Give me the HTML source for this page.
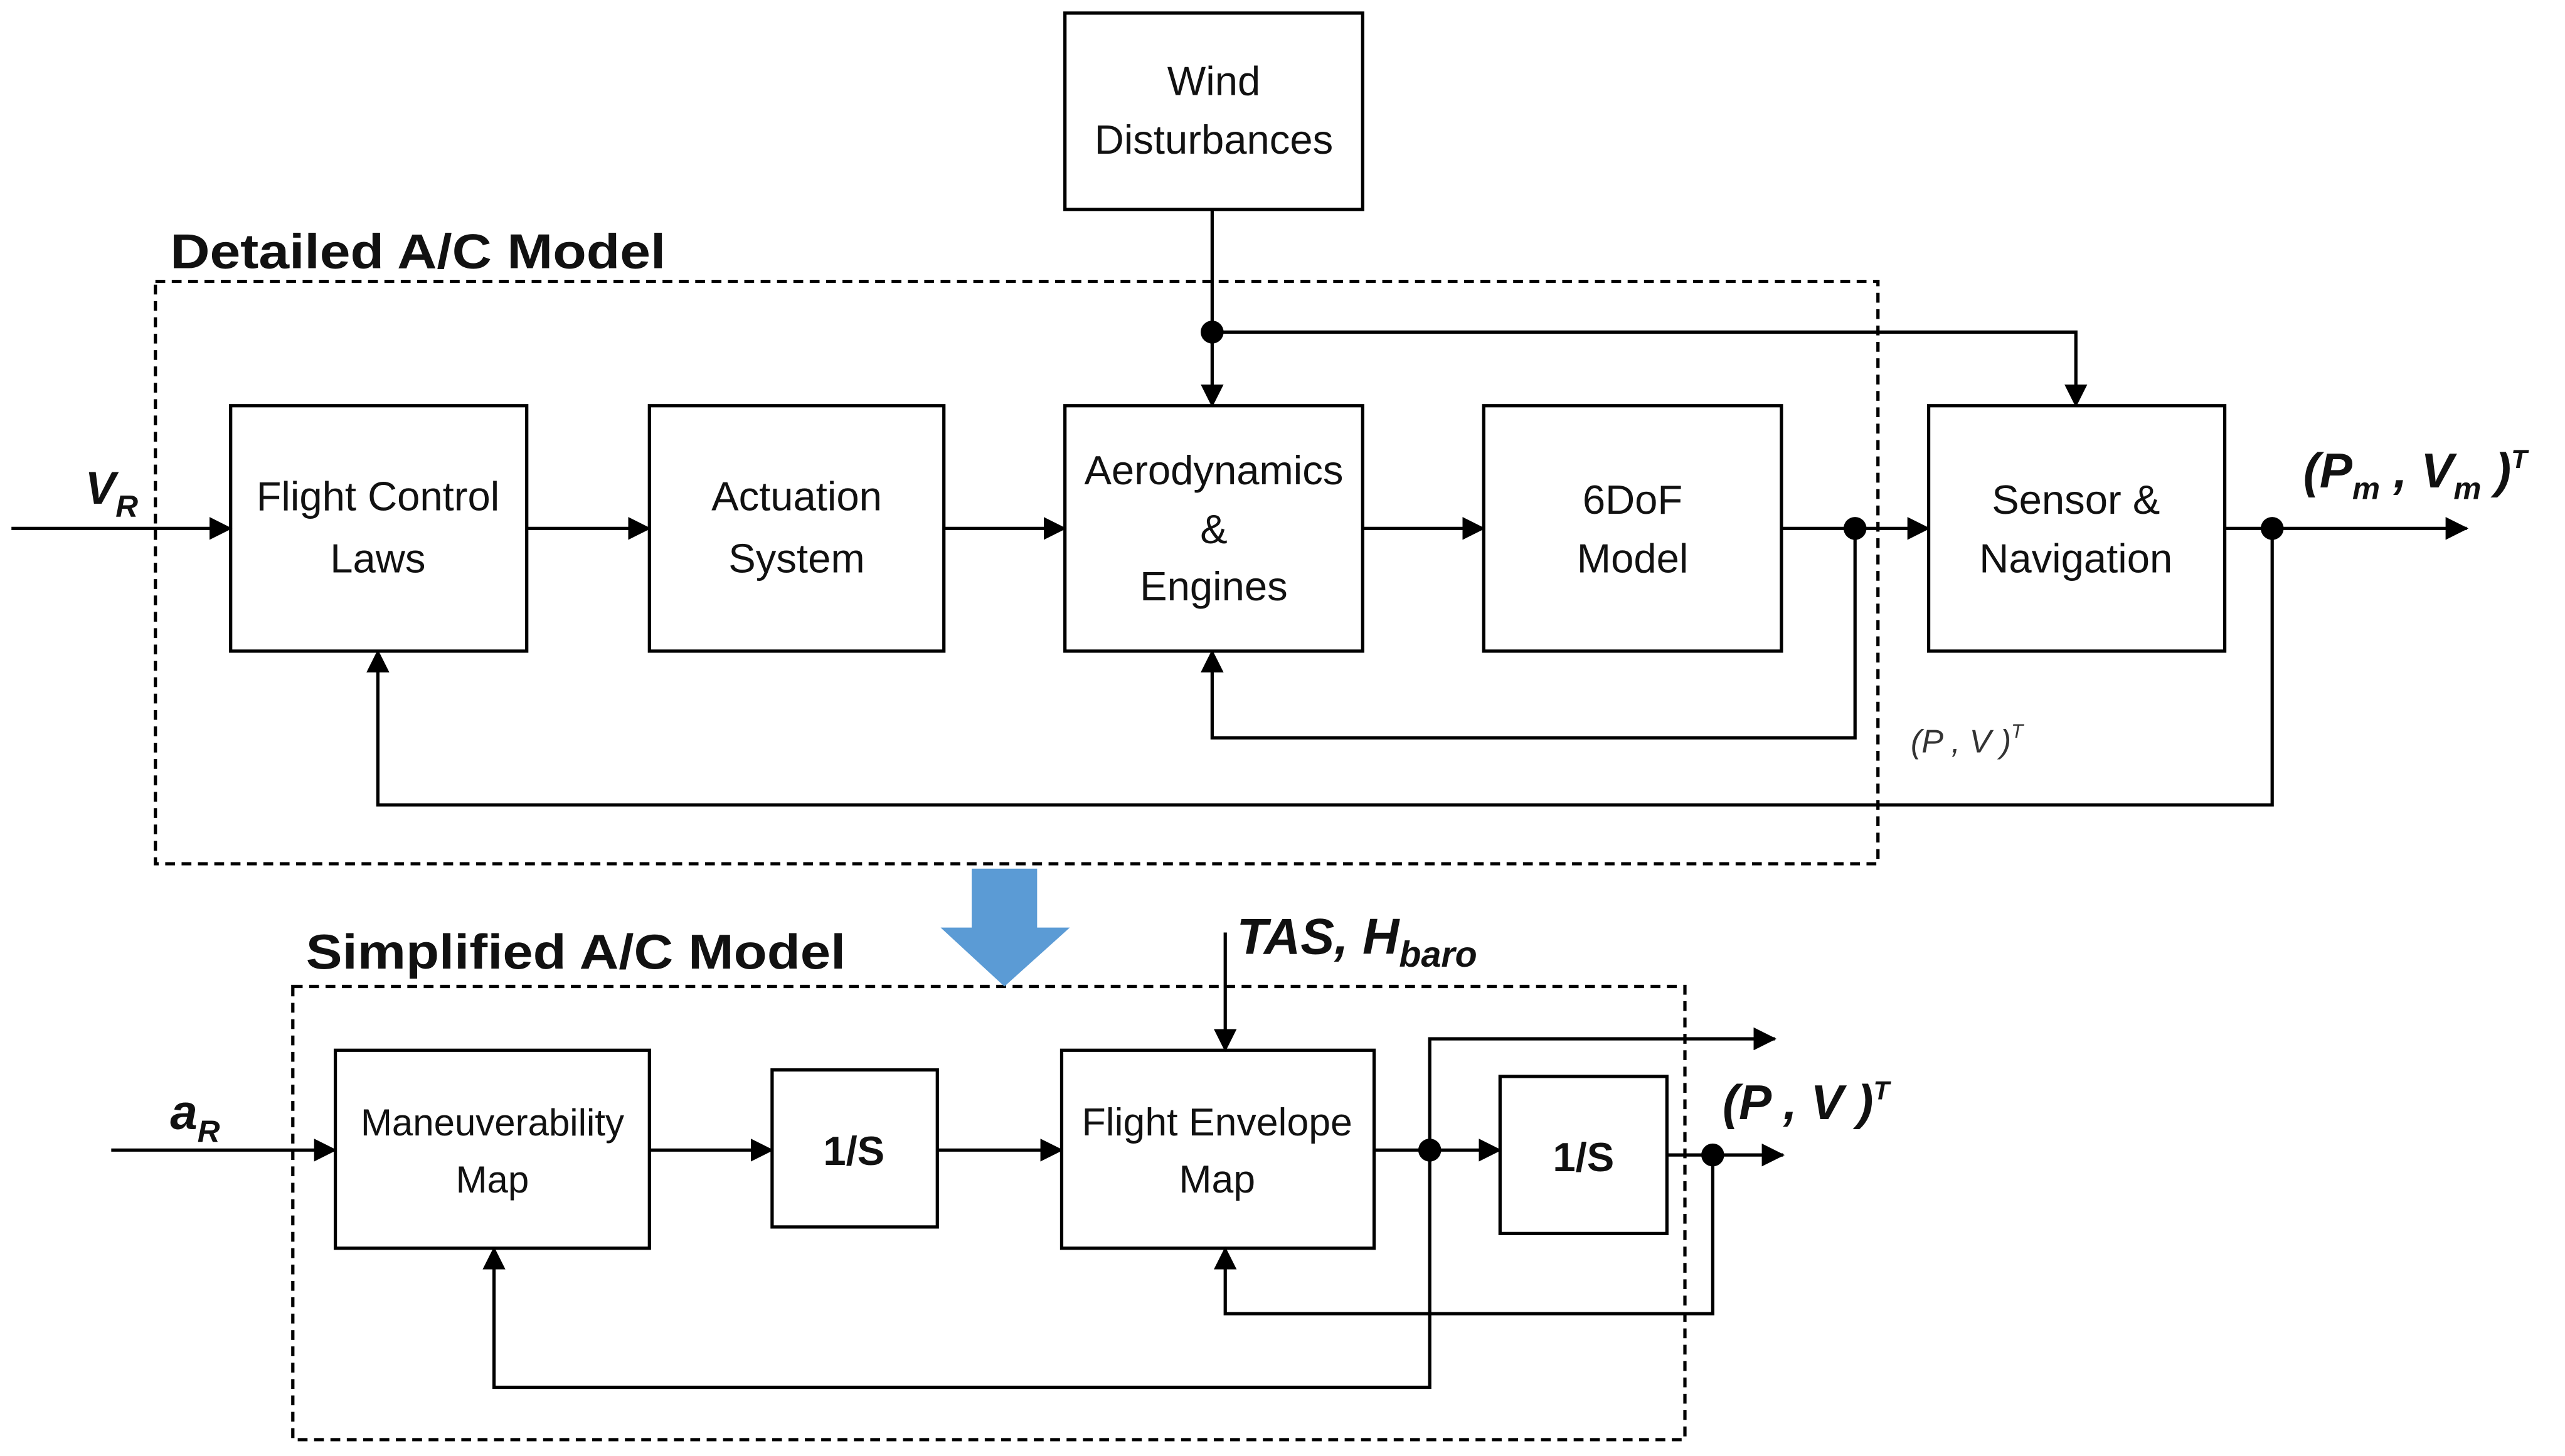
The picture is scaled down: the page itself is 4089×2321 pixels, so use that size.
<!DOCTYPE html>
<html><head><meta charset="utf-8"><style>html,body{margin:0;padding:0;background:#fff}svg{display:block}</style></head>
<body>
<svg width="4089" height="2321" viewBox="0 0 1568 890" preserveAspectRatio="none" xmlns="http://www.w3.org/2000/svg" font-family="Liberation Sans, sans-serif">
<defs><marker id="b" markerWidth="14" markerHeight="14" refX="13" refY="7" orient="auto" markerUnits="userSpaceOnUse"><path d="M0,0 L14,7 L0,14 z" fill="#000"/></marker></defs>
<g fill="none" stroke="#000" stroke-width="2">
<rect x="95" y="172" width="1053" height="356" stroke-dasharray="6,4"/>
<rect x="179" y="603" width="851" height="277" stroke-dasharray="6,4"/>
<rect x="651" y="8" width="182" height="120"/>
<rect x="141" y="248" width="181" height="150"/>
<rect x="397" y="248" width="180" height="150"/>
<rect x="651" y="248" width="182" height="150"/>
<rect x="907" y="248" width="182" height="150"/>
<rect x="1179" y="248" width="181" height="150"/>
<rect x="205" y="642" width="192" height="121"/>
<rect x="472" y="654" width="101" height="96"/>
<rect x="649" y="642" width="191" height="121"/>
<rect x="917" y="658" width="102" height="96"/>
<g marker-end="url(#b)">
<path d="M7,323 H141"/><path d="M322,323 H397"/><path d="M577,323 H651"/><path d="M833,323 H907"/><path d="M1089,323 H1179"/><path d="M1360,323 H1508"/>
<path d="M741,128 V248"/><path d="M741,203 H1269 V248"/>
<path d="M1134,323 V451 H741 V398"/><path d="M1389,323 V492 H231 V398"/>
<path d="M68,703 H205"/><path d="M397,703 H472"/><path d="M573,703 H649"/><path d="M840,703 H917"/><path d="M1019,706 H1090"/>
<path d="M874,703 V635 H1085"/><path d="M874,703 V848 H302 V763"/><path d="M1047,706 V803 H749 V763"/><path d="M749,570 V642"/>
</g></g>
<g fill="#000"><circle cx="741" cy="203" r="7"/><circle cx="1134" cy="323" r="7"/><circle cx="1389" cy="323" r="7"/><circle cx="874" cy="703" r="7"/><circle cx="1047" cy="706" r="7"/></g>
<path d="M594,531 H634 V567 H654 L614,603 L575,567 H594 Z" fill="#5b9bd5"/>
<g font-size="25" text-anchor="middle" fill="#111">
<text x="742" y="58">Wind</text><text x="742" y="94">Disturbances</text>
<text x="231" y="312">Flight Control</text><text x="231" y="350">Laws</text>
<text x="487" y="312">Actuation</text><text x="487" y="350">System</text>
<text x="742" y="296">Aerodynamics</text><text x="742" y="332">&amp;</text><text x="742" y="367">Engines</text>
<text x="998" y="314">6DoF</text><text x="998" y="350">Model</text>
<text x="1269" y="314">Sensor &amp;</text><text x="1269" y="350">Navigation</text>
<text x="301" y="694" font-size="23">Maneuverability</text><text x="301" y="729" font-size="23">Map</text>
<text x="744" y="694" font-size="24">Flight Envelope</text><text x="744" y="729" font-size="24">Map</text>
<text x="522" y="712" font-weight="bold">1/S</text><text x="968" y="716" font-weight="bold">1/S</text>
</g>
<g font-weight="bold" fill="#111">
<text x="104" y="164" font-size="30" textLength="303" lengthAdjust="spacingAndGlyphs">Detailed A/C Model</text>
<text x="187" y="592" font-size="30" textLength="330" lengthAdjust="spacingAndGlyphs">Simplified A/C Model</text>
<text x="52" y="308" font-size="28" font-style="italic">V<tspan font-size="19" dy="8">R</tspan></text>
<text x="104" y="690" font-size="30" font-style="italic">a<tspan font-size="19" dy="8">R</tspan></text>
<text x="1408" y="298" font-size="30" font-style="italic">(P<tspan font-size="19" dy="7">m</tspan><tspan dy="-7"> , V</tspan><tspan font-size="19" dy="7">m</tspan><tspan dy="-7"> )</tspan><tspan font-size="16" dy="-12">T</tspan></text>
<text x="756" y="583" font-size="31" font-style="italic">TAS, H<tspan font-size="22" dy="8">baro</tspan></text>
<text x="1053" y="684" font-size="30" font-style="italic">(P , V )<tspan font-size="16" dy="-12">T</tspan></text>
</g>
<text x="1168" y="460" font-size="20" font-style="italic" fill="#333">(P , V )<tspan font-size="12" dy="-9">T</tspan></text>
</svg>
</body></html>
